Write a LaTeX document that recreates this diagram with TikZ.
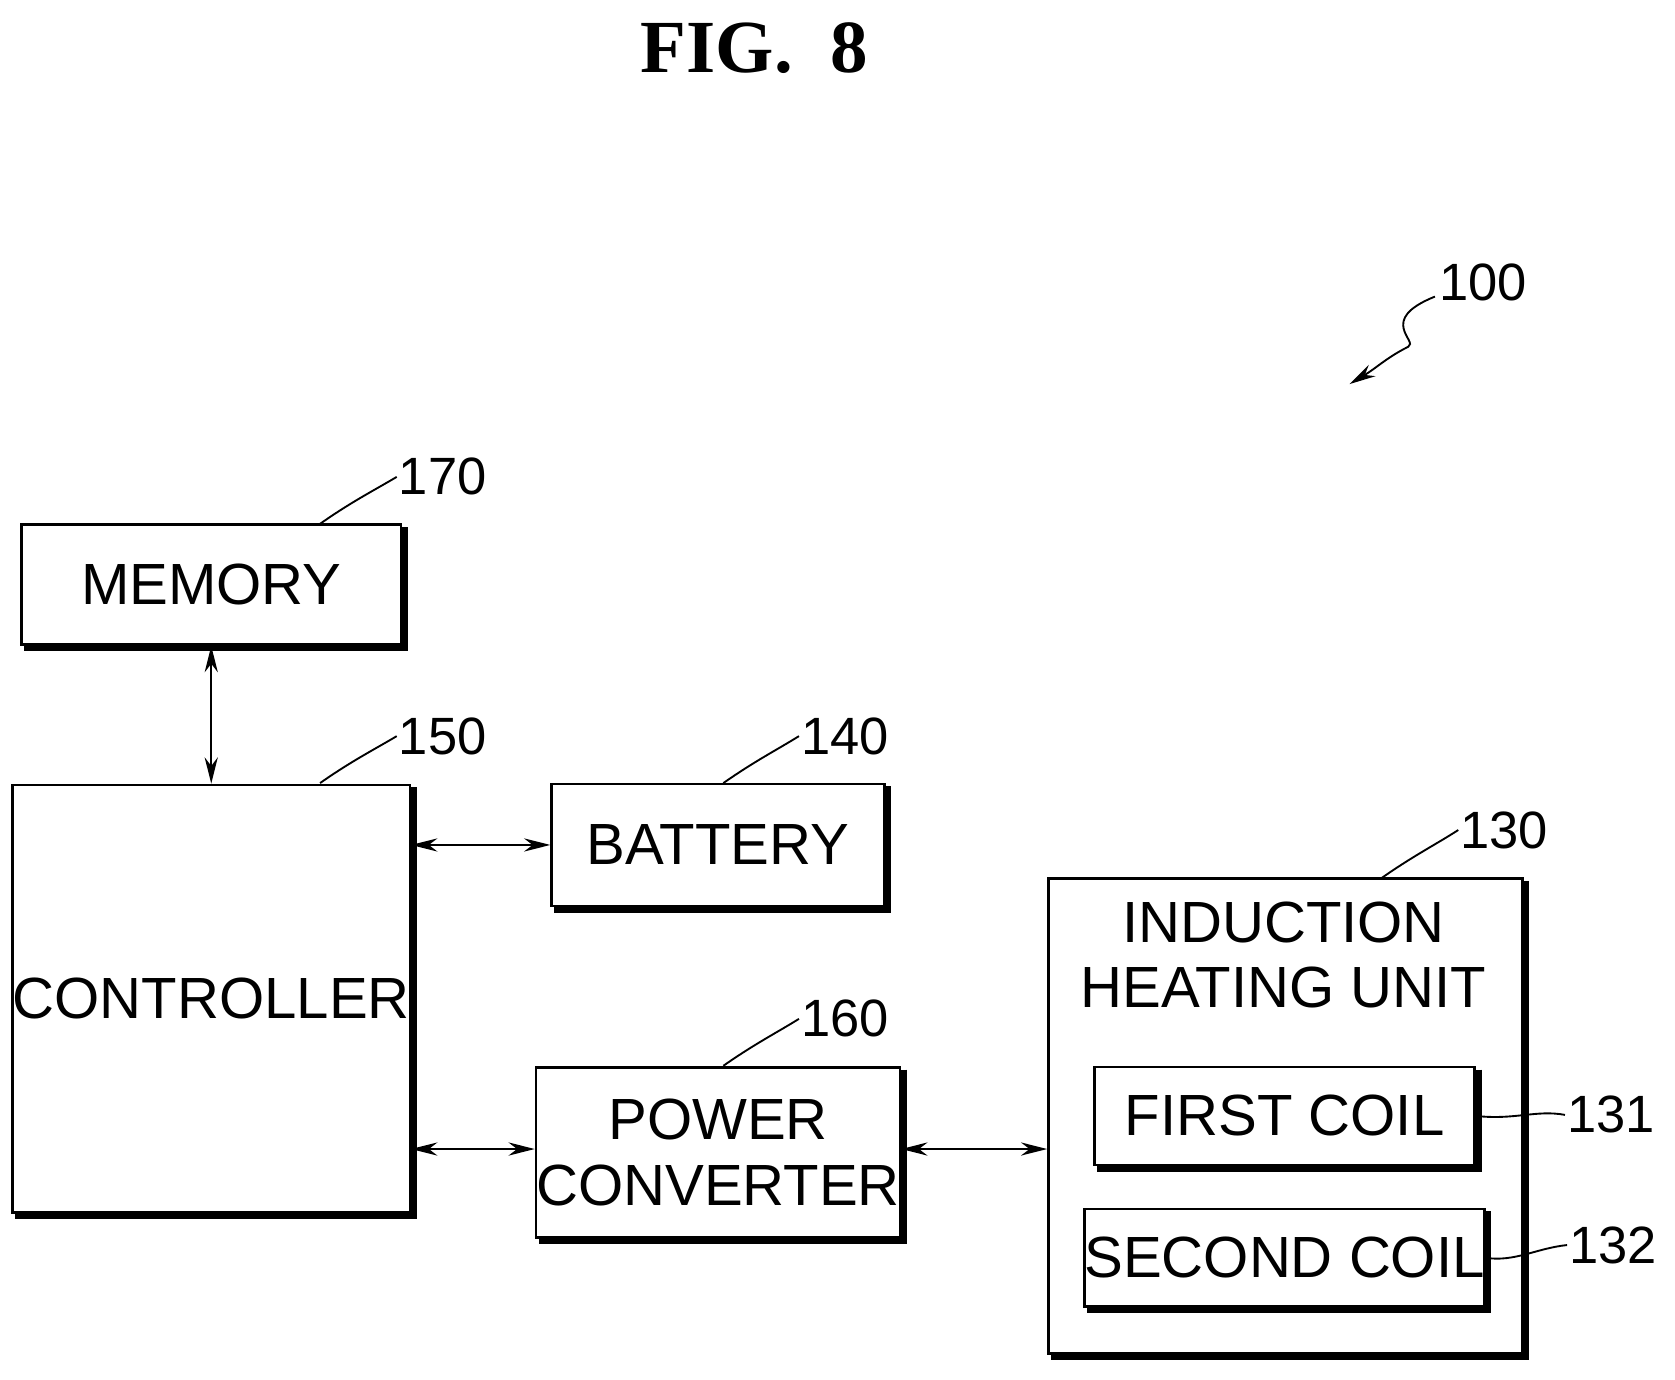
\documentclass[tikz,border=0pt]{standalone}
\usepackage{fontspec}
\setmainfont{Liberation Sans}
\newfontfamily\titlefont{Liberation Serif}
\usetikzlibrary{arrows.meta}
\begin{document}
\begin{tikzpicture}[x=0.02cm,y=-0.02cm,
  blk/.style={draw,line width=1.4pt,inner sep=0pt,align=center,font=\fontsize{31}{35}\selectfont},
  lbl/.style={font=\fontsize{28}{32}\selectfont,inner sep=1pt},
  con/.style={line width=1.2pt,{Stealth[length=14pt,width=7pt]}-{Stealth[length=14pt,width=7pt]}},
  lead/.style={line width=1pt}]
\useasboundingbox (0,0) rectangle (1570,1293);
\newcommand{\shd}[1]{\draw[line width=3.4pt] ([xshift=1.2pt,yshift=-2pt]#1.north east) -- ([xshift=1.2pt,yshift=-1.2pt]#1.south east) -- ([xshift=2pt,yshift=-1.2pt]#1.south west);}
\node[font=\titlefont\bfseries\fontsize{40}{44}\selectfont] (title) at (707,45) {FIG.\ \ 8};
\node[blk,minimum width=357*0.567pt,minimum height=113*0.567pt] (mem) at (198,548) {MEMORY};
\node[blk,minimum width=357*0.567pt,minimum height=402*0.567pt] (ctl) at (198,936) {CONTROLLER};
\node[blk,minimum width=313*0.567pt,minimum height=115*0.567pt] (bat) at (673,792) {BATTERY};
\node[blk,minimum width=313*0.567pt,minimum height=160*0.567pt] (pc) at (673,1080) {POWER\\CONVERTER};
\node[blk,minimum width=446*0.567pt,minimum height=447*0.567pt] (ihu) at (1205,1046) {};
\node[font=\fontsize{31}{35}\selectfont,align=center] (ihut) at (1203,895) {INDUCTION\\HEATING UNIT};
\node[blk,minimum width=358*0.567pt,minimum height=92*0.567pt] (c1) at (1204,1046) {FIRST COIL};
\node[blk,minimum width=358*0.567pt,minimum height=92*0.567pt] (c2) at (1204,1179) {SECOND COIL};
\shd{mem}\shd{ctl}\shd{bat}\shd{pc}\shd{ihu}\shd{c1}\shd{c2}
\draw[con] (mem.south) -- (ctl.north);
\draw[con] (ctl.east |- bat.west) -- (bat.west);
\draw[con] (ctl.east |- 0,1077) -- (pc.west |- 0,1077);
\draw[con] (pc.east |- 0,1077) -- (ihu.west |- 0,1077);
\node[lbl] (l170) at (415,447) {170};
\node[lbl] (l150) at (415,690) {150};
\node[lbl] (l140) at (792,690) {140};
\node[lbl] (l160) at (792,955) {160};
\node[lbl] (l130) at (1410,778) {130};
\node[lbl] (l131) at (1510,1045) {131};
\node[lbl] (l132) at (1512,1167) {132};
\node[lbl] (l100) at (1390,265) {100};
\draw[lead] (300,491) .. controls (330,470) and (350,460) .. (l170.west);
\draw[lead] (300,734) .. controls (330,713) and (350,703) .. (l150.west);
\draw[lead] (678,734) .. controls (708,713) and (728,703) .. (l140.west);
\draw[lead] (678,999) .. controls (708,978) and (728,968) .. (l160.west);
\draw[lead] (1295,823) .. controls (1325,802) and (1345,792) .. (l130.west);
\draw[lead] (c1.east) .. controls (1420,1050) and (1440,1040) .. (l131.west);
\draw[lead] (c2.east) .. controls (1420,1183) and (1440,1170) .. (l132.west);
\coordinate (a100) at (1265,360);
\draw[lead,-{Stealth[length=14pt,width=7pt]}] (1345,278) .. controls (1290,300) and (1330,320) .. (1320,325) .. controls (1300,335) and (1290,345) .. (a100);
\end{tikzpicture}
\end{document}
